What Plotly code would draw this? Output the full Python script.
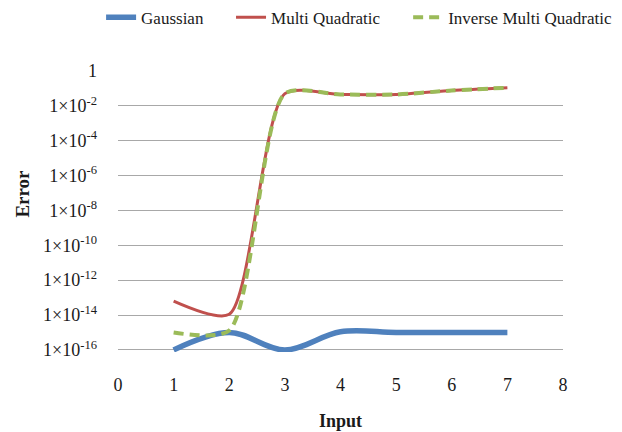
import plotly.graph_objects as go

# ---- data ----
x_input = [1, 2, 3, 4, 5, 6, 7]
gaussian = [1.0e-16, 1.0e-15, 1.0e-16, 1.1e-15, 1.0e-15, 1.0e-15, 1.0e-15]
multi_quadratic = [6.3e-14, 1.1e-14, 5.0e-2, 4.5e-2, 4.5e-2, 7.6e-2, 1.1e-1]
inverse_multi_quadratic = [1.0e-15, 1.3e-15, 5.0e-2, 4.5e-2, 4.5e-2, 7.6e-2, 1.1e-1]

series_names = ["Gaussian", "Multi Quadratic", "Inverse Multi Quadratic"]
y_tickvals = [1e-16, 1e-14, 1e-12, 1e-10, 1e-8, 1e-6, 1e-4, 1e-2, 1]
y_ticktext = ["1×10<sup>-16</sup>", "1×10<sup>-14</sup>", "1×10<sup>-12</sup>",
              "1×10<sup>-10</sup>", "1×10<sup>-8</sup>", "1×10<sup>-6</sup>",
              "1×10<sup>-4</sup>", "1×10<sup>-2</sup>", "1"]
x_tickvals = [0, 1, 2, 3, 4, 5, 6, 7, 8]

FONT = "Liberation Serif, Times New Roman, serif"
TXT = "#1a1a1a"

fig = go.Figure()
fig.add_trace(go.Scatter(x=x_input, y=gaussian, name=series_names[0], mode="lines",
                         legend="legend",
                         line=dict(color="#4F81BD", width=5.5, shape="spline", smoothing=1.0)))
fig.add_trace(go.Scatter(x=x_input, y=multi_quadratic, name=series_names[1], mode="lines",
                         legend="legend2",
                         line=dict(color="#C0504D", width=3, shape="spline", smoothing=0.7)))
fig.add_trace(go.Scatter(x=x_input, y=inverse_multi_quadratic, name=series_names[2], mode="lines",
                         legend="legend3",
                         line=dict(color="#9BBB59", width=4, shape="spline", smoothing=0.7,
                                   dash="10px,6px")))

leg_common = dict(orientation="h", xanchor="left", y=1.19, yanchor="middle",
                  font=dict(family=FONT, size=17, color=TXT),
                  bgcolor="rgba(0,0,0,0)", borderwidth=0)

fig.update_layout(
    width=622, height=432,
    margin=dict(l=118, r=59, t=71, b=80, autoexpand=False),
    paper_bgcolor="white", plot_bgcolor="white",
    font=dict(family=FONT, size=18, color=TXT),
    showlegend=True,
    legend=dict(x=-0.038, **leg_common),
    legend2=dict(x=0.254, **leg_common),
    legend3=dict(x=0.652, **leg_common),
    xaxis=dict(range=[0, 8], tickmode="array", tickvals=x_tickvals,
               showgrid=False, zeroline=False, showline=False, ticks="",
               ticklabelstandoff=20, tickfont=dict(family=FONT, size=18, color=TXT)),
    yaxis=dict(type="log", range=[-16.12, 0], tickmode="array",
               tickvals=y_tickvals, ticktext=y_ticktext,
               showgrid=True, gridcolor="#a8a8a8", gridwidth=1.4,
               zeroline=False, showline=False, ticks="",
               ticklabelstandoff=20, tickfont=dict(family=FONT, size=18, color=TXT)),
    annotations=[
        dict(text="<b>Error</b>", textangle=-90, xref="paper", yref="paper",
             x=-0.2146, y=0.562, xanchor="center", yanchor="middle", showarrow=False,
             font=dict(family=FONT, size=19, color=TXT)),
        dict(text="<b>Input</b>", xref="paper", yref="paper",
             x=0.5, y=-0.2456, xanchor="center", yanchor="middle", showarrow=False,
             font=dict(family=FONT, size=18, color=TXT)),
    ],
)

fig.write_html("out.html")
